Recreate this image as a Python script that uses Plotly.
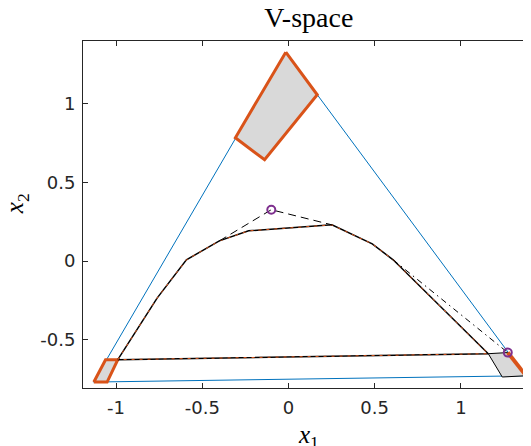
import plotly.graph_objects as go

# ---- data ----
tri_x = [-0.0156, 1.375, -1.131, -0.0156]
tri_y = [1.326, -0.728, -0.768, 1.326]

quad_top_x = [-0.0156, 0.1669, -0.1385, -0.308, -0.0156]
quad_top_y = [1.326, 1.056, 0.643, 0.783, 1.326]

quad_left_x = [-1.129, -1.061, -0.990, -1.052, -1.129]
quad_left_y = [-0.768, -0.626, -0.626, -0.768, -0.768]

quad_right_x = [1.159, 1.272, 1.378, 1.240, 1.159]
quad_right_y = [-0.588, -0.581, -0.728, -0.736, -0.588]

edge_right_x = [1.272, 1.378]
edge_right_y = [-0.581, -0.728]

curve_x = [-0.990, -0.762, -0.592, -0.401, -0.231, 0.252, 0.486, 0.607, 1.159, -0.990]
curve_y = [-0.626, -0.235, 0.008, 0.128, 0.192, 0.230, 0.109, 0.008, -0.588, -0.626]

dashed_x = [-0.401, -0.0997, 0.252]
dashed_y = [0.128, 0.326, 0.230]

dashdot_x = [0.607, 1.272]
dashdot_y = [0.008, -0.581]

pts_x = [-0.0997, 1.272]
pts_y = [0.326, -0.581]

x_ticks = [-1, -0.5, 0, 0.5, 1]
x_ticklabels = ["-1", "-0.5", "0", "0.5", "1"]
y_ticks = [-0.5, 0, 0.5, 1]
y_ticklabels = ["-0.5", "0", "0.5", "1"]

BLUE = "#0072BD"
ORANGE = "#D95319"
PURPLE = "#7E2F8E"
GREY = "#d9d9d9"
AX = "#262626"

fig = go.Figure()
fig.add_trace(go.Scatter(x=tri_x, y=tri_y, mode="lines",
                         line=dict(color=BLUE, width=1)))
fig.add_trace(go.Scatter(x=quad_top_x, y=quad_top_y, mode="lines", fill="toself",
                         fillcolor=GREY, line=dict(color=ORANGE, width=3)))
fig.add_trace(go.Scatter(x=quad_left_x, y=quad_left_y, mode="lines", fill="toself",
                         fillcolor=GREY, line=dict(color=ORANGE, width=3)))
fig.add_trace(go.Scatter(x=quad_right_x, y=quad_right_y, mode="lines", fill="toself",
                         fillcolor=GREY, line=dict(color="black", width=1)))
fig.add_trace(go.Scatter(x=edge_right_x, y=edge_right_y, mode="lines",
                         line=dict(color=ORANGE, width=4)))
fig.add_trace(go.Scatter(x=curve_x, y=curve_y, mode="lines",
                         line=dict(color="black", width=1.5)))
fig.add_trace(go.Scatter(x=curve_x, y=curve_y, mode="lines",
                         line=dict(color=ORANGE, width=1, dash="3px,5px")))
fig.add_trace(go.Scatter(x=dashed_x, y=dashed_y, mode="lines",
                         line=dict(color="black", width=1, dash="8px,5px")))
fig.add_trace(go.Scatter(x=dashdot_x, y=dashdot_y, mode="lines",
                         line=dict(color="black", width=1, dash="6px,4px,1.5px,4px")))
fig.add_trace(go.Scatter(x=pts_x, y=pts_y, mode="markers",
                         marker=dict(symbol="circle-open", size=8, color=PURPLE,
                                     line=dict(color=PURPLE, width=2))))

fig.update_layout(
    width=523, height=438,
    margin=dict(l=74.5, r=0, t=32.5, b=58.3, autoexpand=False),
    paper_bgcolor="white", plot_bgcolor="white",
    showlegend=False,
    title=dict(text="V-space", x=0.504, xanchor="center", xref="paper",
               y=1 - 9 / 438, yanchor="middle", yref="container",
               font=dict(family="Liberation Serif", size=28, color="black")),
    xaxis=dict(range=[-1.1918, 1.4067], tickvals=x_ticks, ticktext=x_ticklabels,
               ticks="inside", ticklen=5, tickcolor=AX, tickwidth=1,
               showline=True, linecolor=AX, linewidth=1, mirror="ticks",
               showgrid=False, zeroline=False, automargin=False,
               ticklabelstandoff=3,
               tickfont=dict(family="DejaVu Sans", size=18, color=AX)),
    yaxis=dict(range=[-0.8058, 1.3972], tickvals=y_ticks, ticktext=y_ticklabels,
               ticks="inside", ticklen=5, tickcolor=AX, tickwidth=1,
               showline=True, linecolor=AX, linewidth=1, mirror=False,
               showgrid=False, zeroline=False, automargin=False,
               ticklabelstandoff=3,
               tickfont=dict(family="DejaVu Sans", size=18, color=AX)),
    annotations=[
        dict(text="<i>x</i><sub>1</sub>", xref="paper", yref="paper",
             x=0.504, y=-0.09, xanchor="center", yanchor="top", showarrow=False,
             font=dict(family="Liberation Serif", size=25, color="black")),
        dict(text="<i>x</i><sub>2</sub>", xref="paper", yref="paper",
             x=-0.1467, y=0.5305, xanchor="center", yanchor="middle", showarrow=False,
             textangle=-90,
             font=dict(family="Liberation Serif", size=25, color="black")),
    ],
)

fig.write_html("out.html")
